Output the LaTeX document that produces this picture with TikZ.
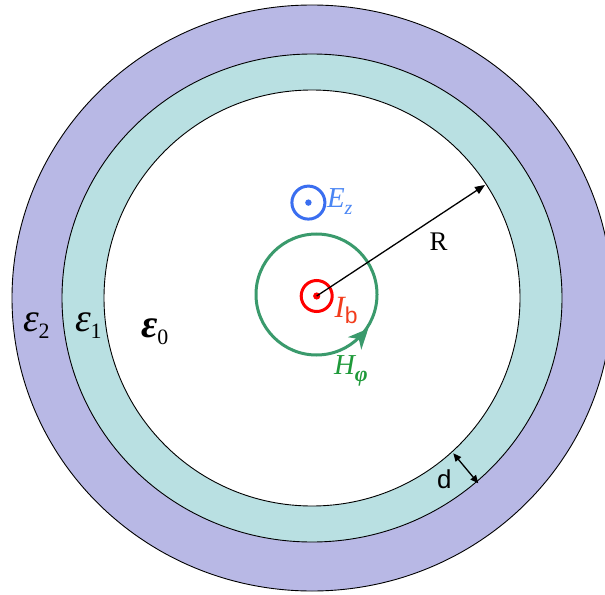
\documentclass[tikz,border=0pt]{standalone}
\usepackage{fontspec}
\setmainfont{Liberation Serif}
\newfontfamily\sansf{Liberation Sans}
\usetikzlibrary{arrows.meta}
\definecolor{outerfill}{HTML}{B8B8E5}
\definecolor{midfill}{HTML}{B9E0E2}
\definecolor{ecirc}{HTML}{3A6EF0}
\definecolor{etext}{HTML}{4A86F4}
\definecolor{icirc}{HTML}{FF0000}
\definecolor{itext}{HTML}{F23C1C}
\definecolor{hcirc}{HTML}{3A9A6C}
\definecolor{htext}{HTML}{1F9A3A}
\begin{document}
\begin{tikzpicture}[x=1bp,y=-1bp,
  lbl/.style={inner sep=0pt, outer sep=0pt, anchor=base west},
  ring/.style={draw=black, line width=0.9bp},
  fieldring/.style={circle, line width=3bp, inner sep=0pt, outer sep=0pt}]
\path[use as bounding box] (0,0) rectangle (605,595);
\clip (0,0) rectangle (605,595);
\coordinate (O) at (312,298);
% layers
\path[ring, fill=outerfill] (O) ellipse [x radius=300, y radius=293];
\path[ring, fill=midfill] (O) ellipse [x radius=250, y radius=244];
\path[ring, fill=white] (O) ellipse [x radius=208, y radius=208];
% field circles
\node[fieldring, draw=hcirc, minimum size=121bp] (H) at (316.5,294.5) {};
\coordinate (ha) at (362.0,335.4);
\coordinate (hb) at (368.3,328.6);
\draw[hcirc, line width=3bp, -{Stealth[length=20bp,width=18bp,inset=6bp]}] (ha) -- (hb);
\node[fieldring, draw=icirc, minimum size=31bp] (I) at (316.7,296) {};
\fill[icirc] (I.center) circle [radius=3.6];
\node[fieldring, draw=ecirc, minimum size=33bp] (E) at (308.4,202.6) {};
\fill[ecirc] (E.center) circle [radius=3.2];
% radius arrow
\coordinate (Rt) at (485,185);
\draw[line width=1.3bp, -{Triangle[length=10bp,width=8bp]}] (I.center) -- (Rt);
% thickness arrow
\coordinate (d1) at (453.3,453.3);
\coordinate (d2) at (478.3,483.3);
\draw[line width=1.3bp, {Triangle[length=8bp,width=7bp]}-{Triangle[length=8bp,width=7bp]}] (d1) -- (d2);
% labels
\node[lbl, text=etext] (Ez) at (327,207) {\fontsize{29}{29}\selectfont\itshape E\raisebox{-7bp}{\fontsize{20}{20}\selectfont z}};
\node[lbl, text=itext] (Ib) at (334.5,317) {\fontsize{31}{31}\selectfont\itshape I\raisebox{-6bp}{\upshape\sansf\fontsize{23}{23}\selectfont b}};
\node[lbl, text=htext] (Hp) at (334,374.5) {\fontsize{29}{29}\selectfont\itshape H\raisebox{-7bp}{\bfseries\itshape\fontsize{22}{22}\selectfont φ}};
\node[lbl] (Rl) at (429.5,250) {\fontsize{27}{27}\selectfont R};
\node[lbl] (dl) at (437,488) {\sansf\fontsize{26}{26}\selectfont d};
\node[lbl] (e2) at (23,331) {\fontsize{40}{40}\selectfont\itshape ε\raisebox{-7bp}{\upshape\fontsize{22}{22}\selectfont 2}};
\node[lbl] (e1) at (75,331) {\fontsize{40}{40}\selectfont\itshape ε\raisebox{-7bp}{\upshape\fontsize{22}{22}\selectfont 1}};
\node[lbl] (e0) at (141,337) {\fontsize{40}{40}\selectfont\bfseries\itshape ε\raisebox{-7bp}{\upshape\mdseries\fontsize{22}{22}\selectfont 0}};
\end{tikzpicture}
\end{document}
